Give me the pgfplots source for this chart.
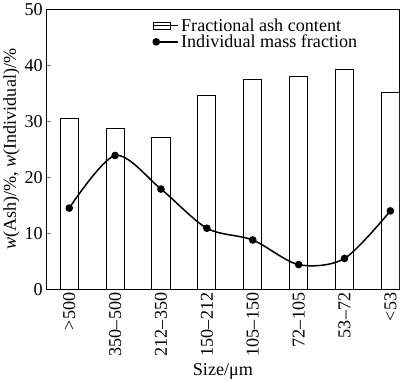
\documentclass[border=0pt]{standalone}
\usepackage{pgfplots}
\pgfplotsset{compat=1.18}
\usepackage{fontspec}
\setmainfont{Liberation Serif}
\newcommand\fnt{\fontsize{18bp}{21bp}\selectfont}
\begin{document}
\begin{tikzpicture}[font=\fnt]
\begin{axis}[
  scale only axis,
  width=351bp, height=278bp,
  xmin=-0.5, xmax=7.2,
  ymin=0, ymax=50,
  ytick={0,10,20,30,40,50},
  xtick={0,1,2,3,4,5,6,7},
  xticklabels={>500,350--500,212--350,150--212,105--150,72--105,53--72,<53},
  xticklabel style={rotate=90, anchor=east},
  x tick style={draw=none},
  ytick pos=left,
  tick align=inside,
  major tick length=5bp,
  /pgf/number format/assume math mode=true,
  axis line style={line width=0.9bp},
  xlabel={Size/μm},
  ylabel={\textit{w}(Ash)/\%, \textit{w}(Individual)/\%},
  ylabel style={yshift=-2bp},
  legend style={at={(0.30,0.975)}, anchor=north west, draw=none, fill=none,
    font=\fnt, row sep=-2bp, inner sep=0pt, cells={anchor=west}},
  legend cell align=left,
]
\addplot[ybar, bar width=18bp, draw=black, fill=white, line width=1bp,
  legend image code/.code={\draw[line width=0.9bp] (0bp,-3.5bp) rectangle (17bp,3.5bp); \path (0,0)--(25bp,0);}]
  coordinates {(0,30.5) (1,28.8) (2,27.2) (3,34.7) (4,37.4) (5,38.1) (6,39.2) (7,35.1)};
\addlegendentry{Fractional ash content}
\addplot[smooth, black, line width=1.5bp, mark=*, mark size=3bp,
  legend image code/.code={\fill (3bp,0) circle (3bp); \draw[line width=1.5bp] (7bp,0)--(17bp,0); \path (0,0)--(25bp,0);}]
  coordinates {(0,14.5) (1,23.9) (2,17.9) (3,10.9) (4,8.8) (5,4.4) (6,5.5) (7,14.0)};
\addlegendentry{Individual mass fraction}
\end{axis}
\end{tikzpicture}
\end{document}
